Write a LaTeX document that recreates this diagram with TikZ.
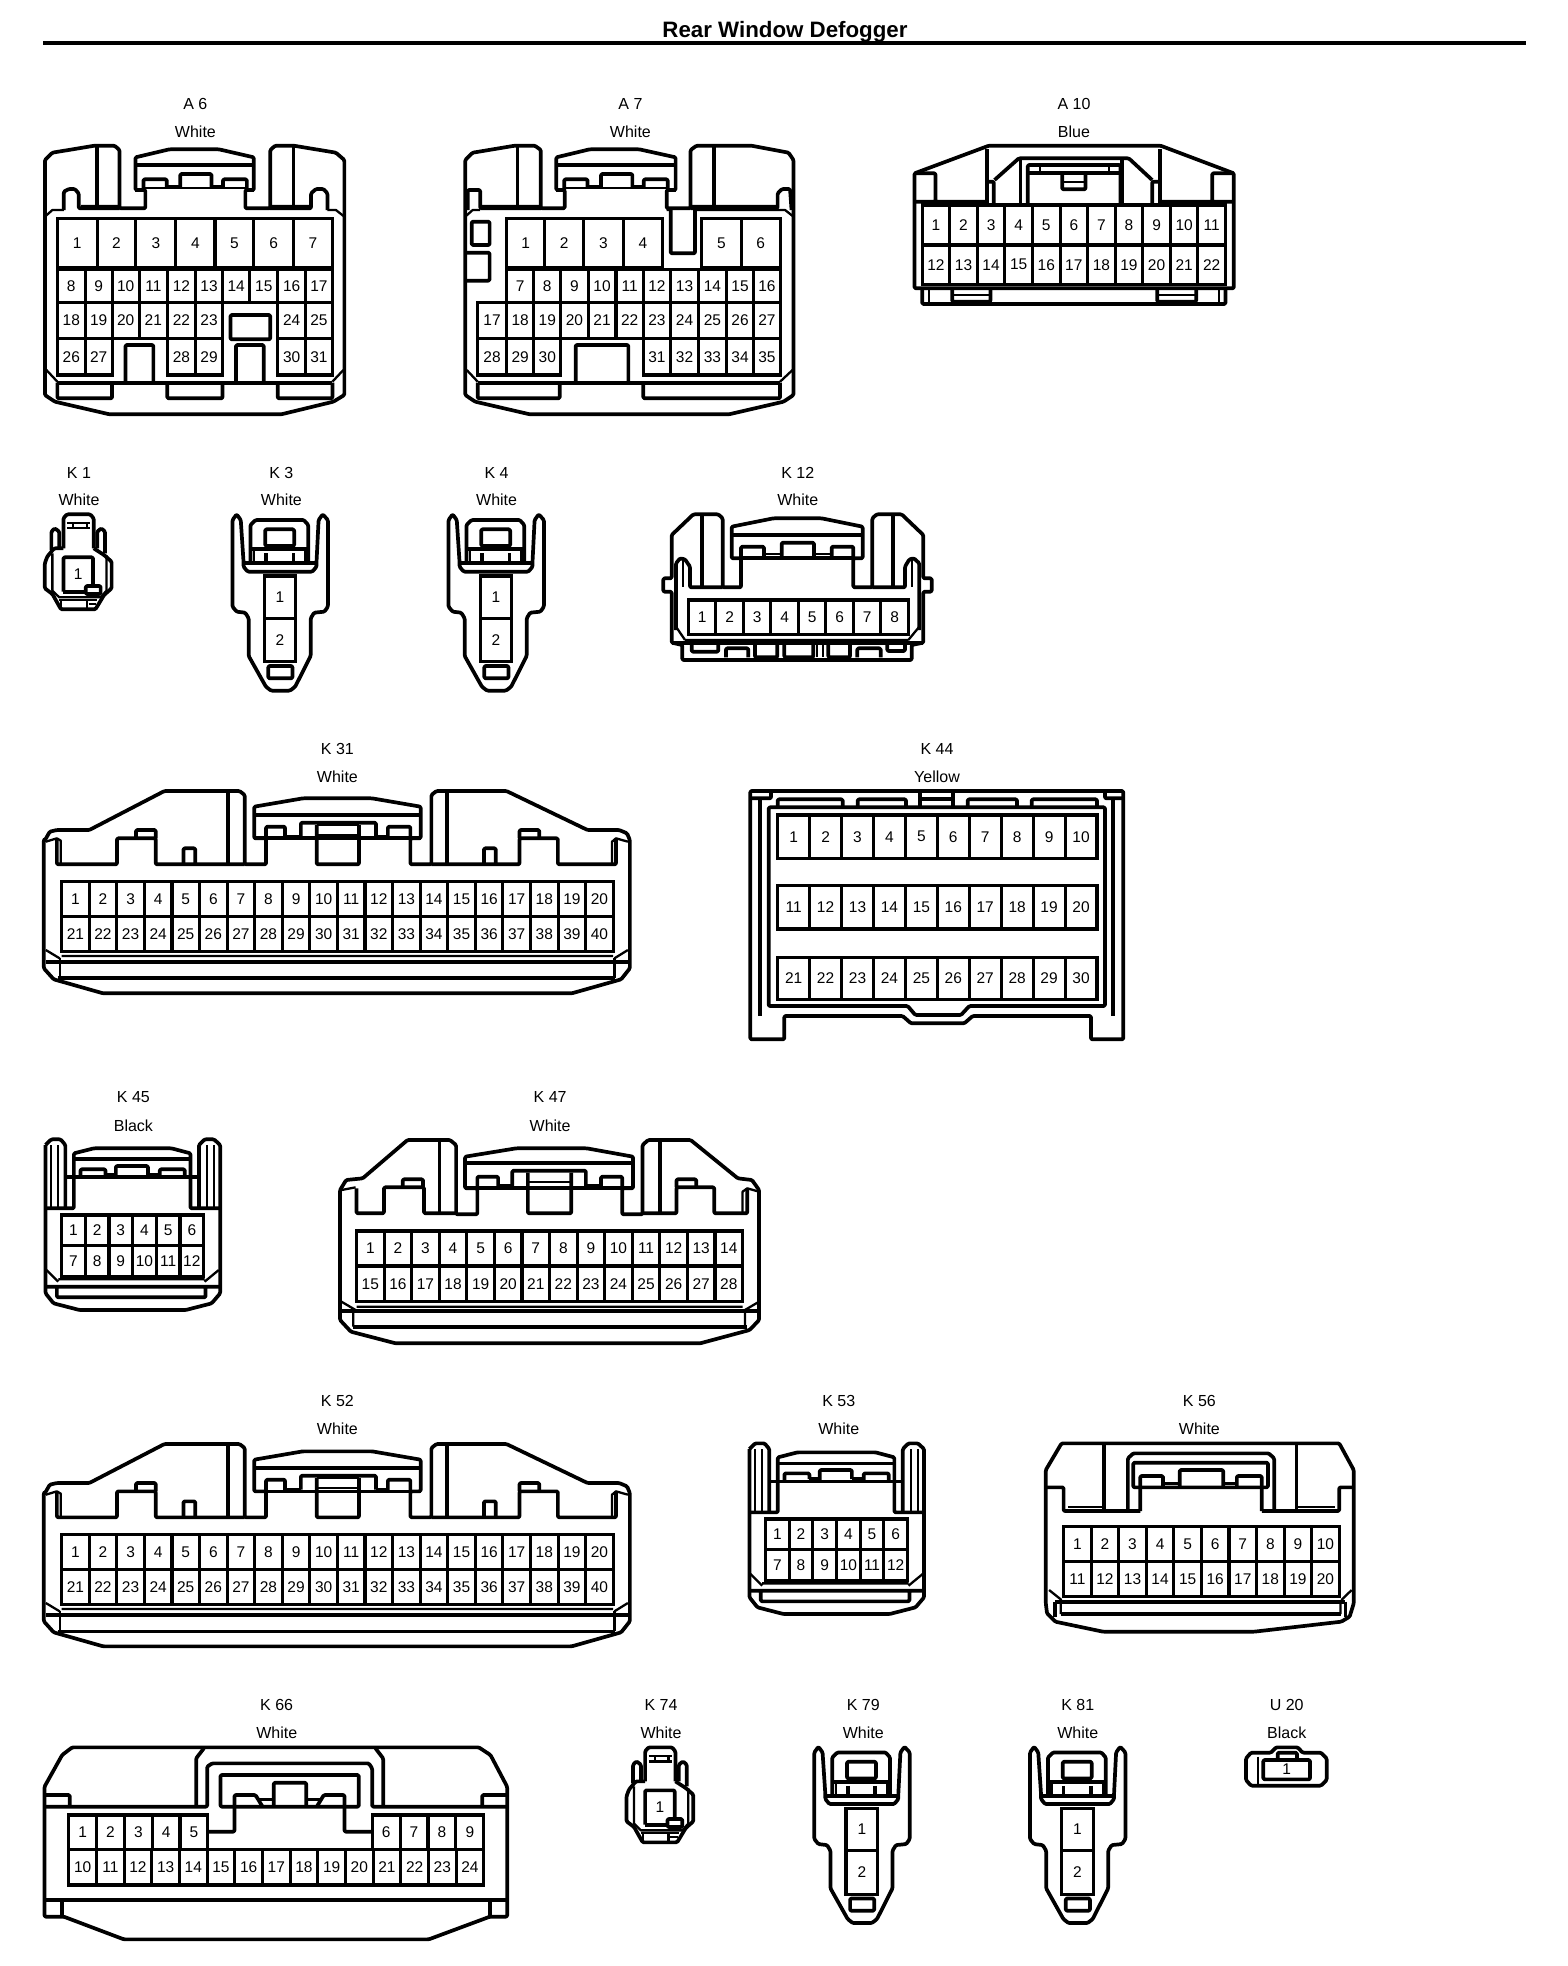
\documentclass[tikz,border=0pt]{standalone}
\usepackage{fontspec}
\setmainfont{Liberation Sans}
\tikzset{
  zonecrop/.style n args={3}{shift={(#1pt,-#2pt)},x=#3pt,y=-0.33333pt},
  ol/.style={draw=black,line width=3.7pt,line join=round,rounded corners=1.2pt},
  th/.style={draw=black,line width=2.3pt,line join=round},
  cellbox/.style={draw=black,line width=3.1pt,line join=miter},
  pinlabel/.style={inner sep=0pt,font=\fontsize{15.5}{16}\selectfont},
  conname/.style={inner sep=0pt,font=\fontsize{16}{18}\selectfont},
  titletext/.style={inner sep=0pt,font=\fontsize{22.3}{24}\selectfont\bfseries},
}
% uniform row: y0,y1,first,x0,x1,count
\newcommand\pinrowu[6]{%
  \foreach \c in {1,...,#6} {
    \pgfmathsetmacro\xa{#4+(\c-1)/#6*(#5-#4)}
    \pgfmathsetmacro\xb{#4+\c/#6*(#5-#4)}
    \pgfmathtruncatemacro\n{#3+\c-1}
    \draw[cellbox] (\xa,#1) rectangle (\xb,#2);
    \node[pinlabel] (\cname-\n) at ({(\xa+\xb)/2},{(#1+#2)/2}) {\n};
  }}
% explicit row: y0,y1,first,list of x
\newcommand\pinrowl[4]{%
  \foreach \xb [remember=\xb as \xa (initially 0),count=\c from 0] in {#4} {
    \ifnum\c>0
      \pgfmathtruncatemacro\n{#3+\c-1}
      \draw[cellbox] (\xa,#1) rectangle (\xb,#2);
      \node[pinlabel] (\cname-\n) at ({(\xa+\xb)/2},{(#1+#2)/2}) {\n};
    \fi
  }}
\newcommand\conlabel[6]{%
  \node[conname,xshift=1pt] (#1-name) at (#4,#5) {#2};
  \node[conname,xshift=1pt] (#1-colour) at (#4,#6) {#3};}
% --- shapes ---
\newcommand\latchA{%
  \draw[ol] (212,255)--(450,255);
  \draw[th] (228,325)--(436,325);
  \draw[ol] (228,330)--(228,298)--(275,298)--(275,322);
  \draw[ol] (302,322)--(302,282)--(365,282)--(365,322);
  \draw[ol] (388,322)--(388,298)--(436,298)--(436,330);
  \draw[th] (275,318)--(302,318) (365,318)--(388,318);
}
\newcommand\singlepin[1]{%
  \def\cname{#1}
  \draw[ol] (97,295)--(97,205)--(107,193)--(175,193)--(185,205)--(185,295);
  \draw[th] (107,218)--(175,218) (107,235)--(175,235) (125,218)--(125,235) (165,218)--(165,235);
  \draw[ol] (62,300)--(62,245)--(72,235)--(85,245)--(85,295);
  \draw[ol] (195,295)--(195,245)--(207,235)--(218,245)--(218,310);
  \draw[ol] (97,295)--(70,295)--(50,320)--(43,340)--(43,415)--(65,432)--(90,478)--(190,478)--(215,435)--(237,415)--(237,335)--(215,315)--(185,295);
  \draw[th] (65,310)--(65,422)--(85,442)--(205,442)--(222,422)--(222,315);
  \draw[ol] (97,425)--(97,322)--(183,322)--(183,408);
  \draw[ol] (97,425)--(160,425);
  \draw[ol] (162,408) rectangle (205,432);
  \node[pinlabel] (\cname-1) at (140,372) {1};
  \draw[th] (85,450)--(195,450) (90,450)--(90,478) (165,450)--(165,478) (170,462)--(192,462);
}
\newcommand\twopin[1]{%
  \def\cname{#1}
  \draw[ol] (588,210)--(600,193)--(612,210)--(620,335)--(620,350)--(632,365)--(820,365)--(832,350)--(832,335)--(838,210)--(850,193)--(865,210)--(865,470)--(855,485)--(825,488)--(815,505)--(815,618)--(770,710)--(755,722)--(700,722)--(685,710)--(635,618)--(635,505)--(625,488)--(600,485)--(588,470)--cycle;
  \draw[ol] (640,335)--(640,225)--(655,210)--(795,210)--(808,225)--(808,335);
  \draw[ol] (683,238) rectangle (767,288);
  \draw[ol] (640,298)--(808,298);
  \draw[ol] (620,340)--(832,340);
  \draw[th] (650,298)--(650,338) (800,298)--(800,338);
  \draw[ol] (685,310)--(685,340) (765,310)--(765,340);
  \pinrowl{378}{505}{1}{680,772}
  \pinrowl{505}{635}{2}{680,772}
  \draw[ol] (692,648) rectangle (762,685);
}
\newcommand\fortypin[1]{%
  \def\cname{#1}
  \draw[ol] (38,330)--(50,305)--(68,300)--(150,300)--(340,183)--(530,183)--(543,195)--(543,403)--(597,403)--(597,325)--(567,325)--(567,230)--(690,205)--(865,205)--(988,230)--(988,325)--(962,325)--(962,403)--(1015,403)--(1015,195)--(1028,183)--(1205,183)--(1410,300)--(1490,300)--(1510,310)--(1517,330)--(1517,715)--(1495,748)--(1370,790)--(185,790)--(60,748)--(35,715)--(35,330)--cycle;
  \draw[ol] (500,183)--(500,403) (1055,183)--(1055,403) (567,255)--(988,255);
  \draw[ol] (68,325)--(68,403)--(220,403)--(220,325)--(318,325)--(318,403)--(543,403);
  \draw[ol] (268,325)--(268,300)--(318,300)--(318,325);
  \draw[ol] (388,403)--(388,355)--(418,355)--(418,403);
  \draw[ol] (1015,403)--(1238,403)--(1238,325)--(1335,325)--(1335,403)--(1482,403)--(1482,325);
  \draw[ol] (1238,325)--(1238,300)--(1288,300)--(1288,325);
  \draw[ol] (1148,403)--(1148,355)--(1178,355)--(1178,403);
  \draw[th] (40,335)--(68,325)--(78,332)--(78,403) (1512,335)--(1482,325)--(1472,335)--(1472,403);
  \draw[ol] (597,325)--(597,290)--(645,290)--(645,325);
  \draw[th] (645,318)--(685,318) (875,318)--(905,318);
  \draw[ol] (685,320)--(685,278)--(875,278)--(875,320);
  \draw[ol] (905,325)--(905,290)--(962,290)--(962,325);
  \draw[ol] (567,325)--(988,325);
  \draw[ol] (725,285)--(725,403)--(832,403)--(832,285);
  \draw[th] (725,285)--(832,285) (725,315)--(832,315);
  \pinrowu{455}{560}{1}{80}{1475}{20}
  \pinrowu{560}{665}{21}{80}{1475}{20}
  \draw[th] (80,678)--(1475,678) (40,660)--(75,685) (1512,660)--(1478,685);
  \draw[ol] (40,695)--(1512,695) (70,745)--(1480,745);
  \draw[th] (75,685)--(75,745) (1478,685)--(1478,745);
}
\newcommand\twelvepin[1]{%
  \def\cname{#1}
  \draw[ol] (33,195)--(45,178)--(65,178)--(75,195)--(75,385);
  \draw[ol] (358,385)--(358,195)--(370,178)--(390,178)--(403,195)--(403,640)--(385,670)--(330,690)--(105,690)--(50,670)--(33,640)--(33,195);
  \draw[ol] (33,385)--(93,385)--(93,220)--(135,205)--(300,205)--(340,220)--(340,385)--(403,385);
  \draw[th] (45,195)--(45,385) (60,195)--(60,385) (375,195)--(375,385) (390,195)--(390,385);
  \draw[ol] (93,238)--(340,238) (75,292)--(358,292);
  \draw[ol] (107,292)--(107,268)--(160,268)--(160,285);
  \draw[ol] (182,290)--(182,258)--(250,258)--(250,285);
  \draw[ol] (275,292)--(275,268)--(328,268)--(328,292);
  \draw[th] (160,283)--(182,283) (250,283)--(275,283);
  \pinrowu{405}{497}{1}{67}{368}{6}
  \pinrowu{497}{590}{7}{67}{368}{6}
  \draw[th] (35,570)--(60,605) (400,570)--(370,605) (60,598)--(370,598);
  \draw[ol] (33,620)--(403,620) (57,620)--(57,652)--(372,652)--(372,620);
}
\begin{document}
\begin{tikzpicture}[x=1pt,y=-1pt]
\fill[white] (0,0) rectangle (1568,1966);
\useasboundingbox (0,0) rectangle (1568,1966);
\node[titletext] (title) at (785,31.5) {Rear Window Defogger};
\coordinate (ruleL) at (43,43);
\coordinate (ruleR) at (1526,43);
\draw[line width=4.5pt] (ruleL)--(ruleR);

% labels
\conlabel{A6}{A 6}{White}{194.4}{104}{131.7}
\conlabel{A7}{A 7}{White}{629.4}{104}{131.7}
\conlabel{A10}{A 10}{Blue}{1073}{104}{131.7}
\conlabel{K1}{K 1}{White}{78}{473.3}{500}
\conlabel{K3}{K 3}{White}{280.4}{473.3}{500}
\conlabel{K4}{K 4}{White}{495.6}{473.3}{500}
\conlabel{K12}{K 12}{White}{796.7}{473.3}{500}
\conlabel{K31}{K 31}{White}{336.4}{749}{776.7}
\conlabel{K44}{K 44}{Yellow}{936}{749}{776.7}
\conlabel{K45}{K 45}{Black}{132.4}{1097.3}{1125.7}
\conlabel{K47}{K 47}{White}{549.1}{1097.3}{1125.7}
\conlabel{K52}{K 52}{White}{336.4}{1401}{1429}
\conlabel{K53}{K 53}{White}{837.8}{1401}{1429}
\conlabel{K56}{K 56}{White}{1198.4}{1401}{1429}
\conlabel{K66}{K 66}{White}{275.7}{1705}{1732.3}
\conlabel{K74}{K 74}{White}{660}{1705}{1732.3}
\conlabel{K79}{K 79}{White}{862.3}{1705}{1732.3}
\conlabel{K81}{K 81}{White}{1076.7}{1705}{1732.3}
\conlabel{U20}{U 20}{Black}{1285.7}{1705}{1732.3}

% A6
\begin{scope}[zonecrop={30}{80}{0.4974}]
\def\cname{A6}
\draw[ol] (30,240)--(45,218)--(130,197)--(170,197)--(180,210)--(180,385)--(232,385)--(232,330)--(212,330)--(212,232)--(280,208)--(380,208)--(450,232)--(450,330)--(433,330)--(433,385)--(483,385)--(483,210)--(493,197)--(530,197)--(615,218)--(632,240)--(632,945)--(610,965)--(505,1003)--(160,1003)--(50,965)--(30,945)--cycle;
\draw[ol] (135,197)--(135,385) (530,197)--(530,385);
\latchA
\draw[ol] (212,330)--(228,330) (436,330)--(450,330);
\draw[ol] (68,390)--(68,335)--(78,327)--(90,327)--(98,340)--(98,385)--(180,385);
\draw[ol] (483,385)--(565,385)--(565,340)--(575,327)--(590,327)--(598,340)--(598,390);
\draw[th] (30,410)--(45,390)--(68,390) (598,390)--(615,390)--(632,410) (103,378)--(180,378) (483,378)--(562,378);
\pinrowl{415}{563}{1}{55,135,213,293,372,450,530,608}
\pinrowl{568}{668}{8}{55,111,165,220,276,333,387,442,498,554,608}
\pinrowl{668}{775}{18}{55,111,165,220,276,333,387}
\pinrowl{668}{775}{24}{498,554,608}
\pinrowl{775}{885}{26}{55,111,165}
\pinrowl{775}{885}{28}{276,333,387}
\pinrowl{775}{885}{30}{498,554,608}
\draw[ol] (403,705) rectangle (483,778);
\draw[ol] (192,908)--(192,795)--(248,795)--(248,908);
\draw[ol] (414,908)--(414,795)--(470,795)--(470,908);
\draw[ol] (55,908)--(608,908);
\draw[th] (33,870)--(55,905) (630,870)--(608,905);
\draw[ol] (55,908)--(55,955)--(165,955)--(165,908) (276,908)--(276,955)--(387,955)--(387,908) (498,908)--(498,955)--(608,955)--(608,908);
\end{scope}
% A7
\begin{scope}[zonecrop={30}{80}{0.4974}]
\def\cname{A7}
\draw[ol] (875,240)--(890,218)--(975,197)--(1015,197)--(1027,210)--(1027,385)--(1075,385)--(1075,330)--(1058,330)--(1058,232)--(1125,208)--(1225,208)--(1298,232)--(1298,330)--(1280,330)--(1280,385)--(1328,385)--(1328,210)--(1340,197)--(1450,197)--(1525,218)--(1535,240)--(1535,945)--(1515,965)--(1405,1003)--(1005,1003)--(895,965)--(875,945)--cycle;
\draw[ol] (980,197)--(980,385) (1375,197)--(1375,385);
\begin{scope}[shift={(846,0)}]\latchA\end{scope}
\draw[ol] (1058,330)--(1074,330) (1282,330)--(1298,330);
\draw[ol] (880,390)--(880,330)--(905,330)--(905,385)--(1027,385);
\draw[ol] (1328,385)--(1503,385)--(1503,340)--(1512,327)--(1528,327)--(1531,390);
\draw[th] (875,410)--(890,390)--(905,390) (1280,390)--(1288,390) (1337,390)--(1518,390)--(1535,410) (908,378)--(1027,378) (1328,378)--(1500,378);
\pinrowl{415}{563}{1}{958,1035,1113,1193,1272}
\pinrowl{415}{563}{5}{1350,1430,1508}
\pinrowl{568}{668}{7}{958,1013,1067,1122,1178,1233,1288,1344,1400,1455,1508}
\pinrowl{668}{775}{17}{900,958,1013,1067,1122,1178,1233,1288,1344,1400,1455,1508}
\pinrowl{775}{885}{28}{900,958,1013,1067}
\pinrowl{775}{885}{31}{1233,1288,1344,1400,1455,1508}
\draw[ol] (1097,908)--(1097,795)--(1203,795)--(1203,908);
\draw[ol] (1288,385)--(1288,520)--(1337,520)--(1337,385);
\draw[ol] (888,425) rectangle (924,495);
\draw[ol] (878,518)--(924,518)--(924,602)--(878,602);
\draw[ol] (900,908)--(1508,908);
\draw[th] (878,870)--(900,905) (1533,870)--(1508,905);
\draw[ol] (900,908)--(900,955)--(1065,955)--(1065,908) (1233,908)--(1233,955)--(1508,955)--(1508,908);
\end{scope}
% A10
\begin{scope}[zonecrop={890.5}{80}{0.33333}]
\def\cname{A10}
\draw[ol] (72,625)--(72,280)--(295,197)--(810,197)--(1030,280)--(1030,625)--cycle;
\draw[ol] (95,625)--(95,672)--(1005,672)--(1005,625);
\draw[th] (115,625)--(115,672) (985,625)--(985,672);
\draw[ol] (185,625)--(185,665)--(300,665)--(300,625) (800,625)--(800,665)--(917,665)--(917,625);
\draw[th] (185,645)--(300,645) (800,645)--(917,645);
\draw[ol] (72,280)--(135,280)--(135,365) (72,365)--(290,365);
\draw[ol] (1030,280)--(965,280)--(965,365) (808,365)--(1030,365);
\draw[ol] (290,208)--(290,375) (808,208)--(808,375);
\draw[ol] (290,305)--(310,305)--(310,375) (808,305)--(785,305)--(785,375);
\draw[ol] (312,300)--(385,235)--(715,235)--(785,300);
\draw[ol] (390,235)--(390,370) (695,235)--(695,370);
\draw[ol] (412,370)--(412,255)--(690,255)--(690,370);
\draw[ol] (412,280)--(690,280);
\draw[th] (448,258)--(448,280) (655,258)--(655,280);
\draw[ol] (515,285)--(515,328)--(585,328)--(585,285);
\draw[th] (515,305)--(585,305);
\pinrowu{375}{495}{1}{95}{1005}{11}
\pinrowu{495}{613}{12}{95}{1005}{11}
\end{scope}
% K1 K3 K4
\begin{scope}[zonecrop={30}{450}{0.34439}]\singlepin{K1}\end{scope}
\begin{scope}[zonecrop={30}{450}{0.34439}]\twopin{K3}\end{scope}
\begin{scope}[zonecrop={246}{450}{0.34439}]\twopin{K4}\end{scope}
% K12
\begin{scope}[zonecrop={640}{450}{0.33333}]
\def\cname{K12}
\draw[ol] (95,385)--(95,255)--(160,193)--(235,193)--(248,205)--(248,412)--(303,412)--(303,325)--(275,325)--(275,230)--(400,205)--(545,205)--(668,230)--(668,325)--(640,325)--(640,412)--(697,412)--(697,205)--(710,193)--(785,193)--(850,255)--(850,385)--(875,385)--(875,425)--(850,425)--(850,578)--(815,585)--(815,630)--(127,630)--(127,585)--(95,578)--(95,425)--(70,425)--(70,385)--cycle;
\draw[ol] (185,193)--(185,412) (758,193)--(758,412) (275,255)--(668,255) (303,325)--(640,325);
\draw[ol] (303,325)--(303,290)--(372,290)--(372,325) (425,320)--(425,278)--(522,278)--(522,320) (575,325)--(575,290)--(640,290)--(640,325);
\draw[th] (372,312)--(425,312) (522,312)--(575,312);
\draw[ol] (108,540)--(108,340)--(120,325)--(135,328)--(150,350)--(150,412)--(248,412);
\draw[ol] (838,540)--(838,340)--(822,325)--(808,328)--(795,350)--(795,412)--(697,412);
\draw[th] (130,330)--(130,412) (815,330)--(815,412);
\pinrowu{450}{553}{1}{145}{805}{8}
\draw[th] (108,530)--(135,570) (838,530)--(805,570) (135,570)--(805,570);
\draw[ol] (95,578)--(850,578);
\draw[ol] (155,582)--(155,605)--(235,605)--(235,582) (345,582)--(345,622)--(412,622)--(412,582) (433,582)--(433,622)--(520,622)--(520,582) (565,582)--(565,622)--(630,622)--(630,582) (742,582)--(742,603)--(795,603)--(795,582);
\draw[ol] (258,622)--(258,595)--(325,595)--(325,622) (652,622)--(652,595)--(722,595)--(722,622);
\draw[th] (530,585)--(530,622) (548,585)--(548,622);
\end{scope}
% K31 K52
\begin{scope}[zonecrop={30}{730}{0.39541}]\fortypin{K31}\end{scope}
\begin{scope}[zonecrop={30}{1383}{0.39541}]\fortypin{K52}\end{scope}
% K44
\begin{scope}[zonecrop={731}{730}{0.33333}]
\def\cname{K44}
\draw[ol] (58,183)--(1177,183)--(1177,928)--(1080,928)--(1080,858)--(725,858)--(700,880)--(540,880)--(515,858)--(160,858)--(160,928)--(58,928)--cycle;
\draw[ol] (88,208)--(88,858) (1147,208)--(1147,858);
\draw[ol] (58,205)--(120,205)--(120,185) (1122,185)--(1122,205)--(1177,205);
\draw[ol] (113,232)--(113,828)--(530,828)--(553,855)--(690,855)--(715,828)--(1122,828)--(1122,232)--cycle;
\draw[ol] (140,232)--(140,208)--(335,208)--(335,232) (380,232)--(380,208)--(525,208)--(525,232) (710,232)--(710,208)--(858,208)--(858,232) (902,232)--(902,208)--(1098,208)--(1098,232);
\draw[ol] (568,185)--(568,232) (665,185)--(665,232) (568,208)--(665,208);
\pinrowu{255}{385}{1}{140}{1098}{10}
\pinrowu{467}{597}{11}{140}{1098}{10}
\pinrowu{682}{808}{21}{140}{1098}{10}
\end{scope}
% K45 K53
\begin{scope}[zonecrop={30}{1080}{0.4719}]\twelvepin{K45}\end{scope}
\begin{scope}[zonecrop={733.9}{1384}{0.4719}]\twelvepin{K53}\end{scope}
% K47
\begin{scope}[zonecrop={30}{1080}{0.4719}]
\def\cname{K47}
\draw[ol] (657,330)--(670,300)--(705,295)--(800,180)--(890,180)--(903,195)--(903,403)--(948,403)--(948,325)--(922,325)--(922,230)--(1030,205)--(1180,205)--(1278,230)--(1278,325)--(1255,325)--(1255,403)--(1298,403)--(1298,195)--(1310,180)--(1400,180)--(1500,295)--(1530,300)--(1545,330)--(1545,720)--(1525,750)--(1420,790)--(775,790)--(680,755)--(657,720)--cycle;
\draw[ol] (868,180)--(868,403) (1335,180)--(1335,403) (922,250)--(1278,250) (922,325)--(1278,325);
\draw[ol] (692,325)--(692,400)--(750,400)--(750,322)--(835,322)--(835,400)--(903,400);
\draw[ol] (790,322)--(790,298)--(833,298)--(833,322);
\draw[ol] (1298,400)--(1370,400)--(1370,322)--(1450,322)--(1450,400)--(1520,400)--(1520,325);
\draw[ol] (1370,322)--(1370,298)--(1412,298)--(1412,322);
\draw[th] (660,330)--(690,322) (1545,335)--(1520,325)--(1510,335)--(1510,400);
\draw[ol] (948,325)--(948,290)--(992,290)--(992,322) (1022,322)--(1022,272)--(1178,272)--(1178,322) (1210,325)--(1210,290)--(1255,290)--(1255,325);
\draw[th] (992,315)--(1022,315) (1178,315)--(1210,315);
\draw[ol] (1055,278)--(1055,400)--(1147,400)--(1147,278);
\draw[th] (1055,305)--(1147,305);
\pinrowu{453}{558}{1}{692}{1510}{14}
\pinrowu{558}{665}{15}{692}{1510}{14}
\draw[th] (692,680)--(1510,680) (660,665)--(690,690) (1545,665)--(1515,690) (685,692)--(685,740) (1515,692)--(1515,740);
\draw[ol] (660,692)--(1545,692) (685,740)--(1520,740);
\end{scope}
% K56
\begin{scope}[zonecrop={732}{1390}{0.4145}]
\def\cname{K56}
\draw[ol] (757,240)--(795,160)--(1465,160)--(1500,240)--(1500,640)--(1490,680)--(1470,695)--(1260,725)--(895,725)--(780,695)--(760,670)--(757,640)--cycle;
\draw[ol] (757,292)--(800,292)--(800,363)--(985,363) (1278,363)--(1465,363)--(1465,292)--(1500,292);
\draw[th] (810,350)--(895,350) (1365,350)--(1455,350);
\draw[ol] (897,165)--(897,363) (1362,165)--(1362,363);
\draw[ol] (955,363)--(955,205)--(968,190)--(1295,190)--(1308,205)--(1308,363);
\draw[ol] (968,292)--(968,218)--(1293,218)--(1293,292)--cycle;
\draw[ol] (985,363)--(985,258)--(1040,258)--(1040,288) (1080,288)--(1080,240)--(1185,240)--(1185,288) (1218,288)--(1218,258)--(1278,258)--(1278,363);
\draw[th] (1040,280)--(1080,280) (1185,280)--(1218,280);
\pinrowu{410}{515}{1}{800}{1465}{10}
\pinrowu{515}{620}{11}{800}{1465}{10}
\draw[th] (765,600)--(795,630) (1495,600)--(1470,630) (793,635)--(793,672) (1468,635)--(1468,672);
\draw[ol] (780,635)--(1480,635) (780,635)--(780,680) (1480,635)--(1480,680) (793,672)--(1468,672);
\end{scope}
% K66
\begin{scope}[zonecrop={30.5}{1690}{0.33333}]
\def\cname{K66}
\draw[ol] (42,290)--(95,195)--(125,172)--(1345,172)--(1380,195)--(1430,290)--(1430,680)--(1378,680)--(1195,748)--(280,748)--(100,680)--(42,680)--cycle;
\draw[ol] (42,315)--(118,315)--(118,350) (1355,350)--(1355,315)--(1430,315);
\draw[ol] (42,350)--(530,350)--(530,230)--(545,220)--(1015,220)--(1025,235)--(1025,350)--(1430,350);
\draw[ol] (497,350)--(497,205)--(520,175) (1058,350)--(1058,205)--(1035,175);
\draw[ol] (570,350)--(570,255)--(985,255)--(985,350)--cycle;
\draw[ol] (535,425)--(612,425)--(612,315)--(675,315)--(695,348) (860,348)--(880,315)--(942,315)--(942,425)--(1025,425);
\draw[ol] (730,350)--(730,278)--(827,278)--(827,350);
\draw[th] (685,328)--(730,328) (827,328)--(870,328);
\pinrowu{375}{478}{1}{115}{532}{5}
\pinrowu{375}{478}{6}{1025}{1360}{4}
\pinrowu{478}{585}{10}{115}{1360}{15}
\draw[ol] (42,630)--(1430,630);
\draw[ol] (95,630)--(95,680) (1378,630)--(1378,680);
\end{scope}
% K74 K79 K81
\begin{scope}[zonecrop={611.7}{1683}{0.34439}]\singlepin{K74}\end{scope}
\begin{scope}[zonecrop={611.8}{1682.4}{0.34439}]\twopin{K79}\end{scope}
\begin{scope}[zonecrop={827.5}{1682.4}{0.34439}]\twopin{K81}\end{scope}
% U20
\begin{scope}[zonecrop={1011}{1690}{0.33333}]
\def\cname{U20}
\draw[ol] (705,205)--(720,188)--(780,188)--(795,172)--(860,172)--(875,188)--(930,188)--(947,205)--(947,270)--(930,287)--(720,287)--(705,270)--cycle;
\draw[th] (742,200)--(742,282);
\draw[ol] (757,210) rectangle (897,268);
\draw[ol] (800,210)--(800,188)--(858,188)--(858,210);
\node[pinlabel] (\cname-1) at (827,237) {1};
\end{scope}
\end{tikzpicture}
\end{document}
